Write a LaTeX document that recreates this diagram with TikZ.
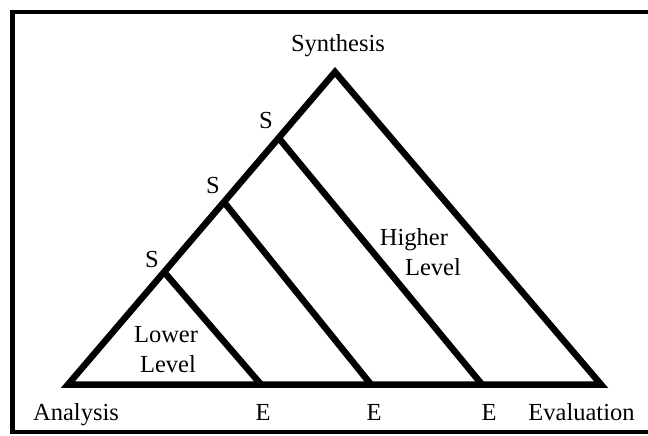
\documentclass[tikz,border=0pt]{standalone}
\usepackage{fontspec}
\setmainfont{Liberation Serif}
\usetikzlibrary{calc}
\begin{document}
\begin{tikzpicture}[x=1pt,y=-1pt,
  thick line/.style={line width=6.5pt,line join=miter},
  frame line/.style={line width=4.5pt},
  lbl/.style={font=\fontsize{24.5}{26}\selectfont,inner sep=0pt},
  blbl/.style={lbl,anchor=base}]
\useasboundingbox (0,0) rectangle (648,436);
% frame (open at right)
\draw[frame line] (648,12) -- (12.5,12) -- (12.5,432) -- (648,432);
% main triangle
\coordinate (apex) at (335,72);
\coordinate (bl) at (68,384.5);
\coordinate (br) at (601,384.5);
\draw[thick line] (bl) -- (apex) -- (br) -- cycle;
% S points on left side and E points on base
\coordinate (s1) at ($(bl)!0.36!(apex)$);
\coordinate (s2) at ($(bl)!0.584!(apex)$);
\coordinate (s3) at ($(bl)!0.789!(apex)$);
\coordinate (e1) at (261,384.5);
\coordinate (e2) at (371,384.5);
\coordinate (e3) at (482,384.5);
\draw[thick line] (s1) -- (e1);
\draw[thick line] (s2) -- (e2);
\draw[thick line] (s3) -- (e3);
% labels
\node[blbl] (syn) at (338,52) {Synthesis};
\node[lbl] (ls1) at (152,260) {S};
\node[lbl] (ls2) at (213,186) {S};
\node[lbl] (ls3) at (266,121) {S};
\node[blbl] (hl1) at (414,245) {Higher};
\node[blbl] (hl2) at (433,275) {Level};
\node[blbl] (ll1) at (166,342) {Lower};
\node[blbl] (ll2) at (168,372) {Level};
\node[blbl] (ana) at (76,420) {Analysis};
\node[blbl] (le1) at (263,420) {E};
\node[blbl] (le2) at (374,420) {E};
\node[blbl] (le3) at (489,420) {E};
\node[blbl] (eva) at (581.5,420) {Evaluation};
\end{tikzpicture}
\end{document}
